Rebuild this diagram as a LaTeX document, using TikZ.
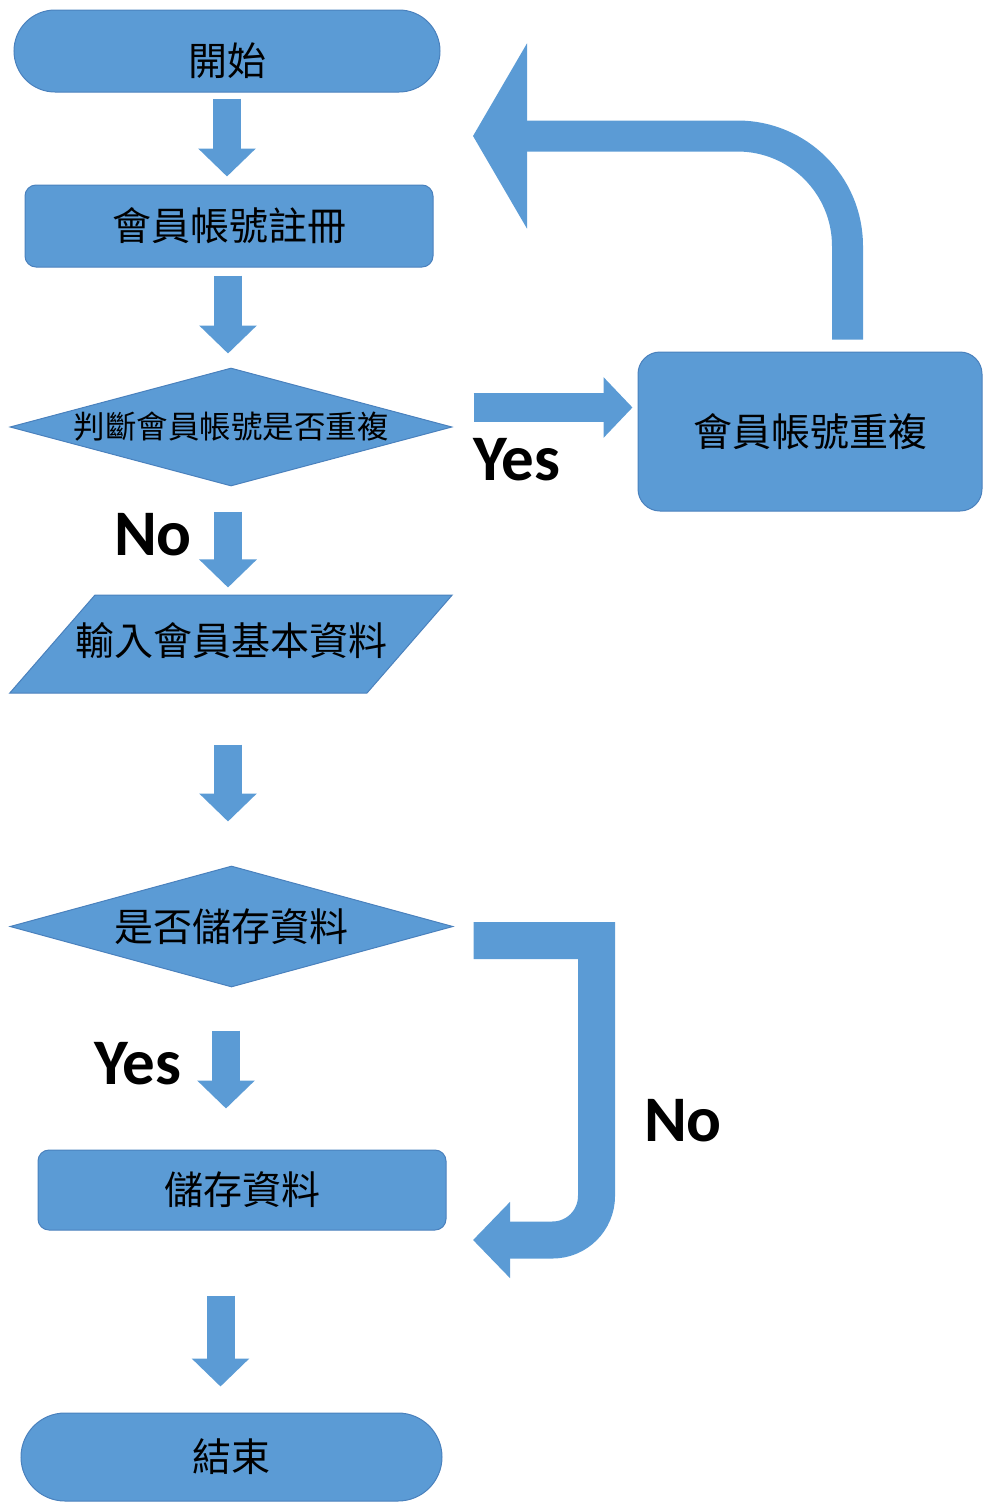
\documentclass[tikz,border=0pt]{standalone}
\usepackage{fontspec}
\setmainfont{Carlito}
\newfontfamily\cjk{Noto Sans CJK TC}
\usetikzlibrary{shapes.geometric,arrows.meta}
\definecolor{fillblue}{HTML}{5B9BD5}
\definecolor{lineblue}{HTML}{4A81BD}
\tikzset{
  shapebase/.style={fill=fillblue, draw=lineblue, line width=1pt, inner sep=0pt,
    font=\cjk\fontsize{39}{39}\selectfont},
  terminal/.style={shapebase, rectangle, rounded corners=41pt},
  process/.style={shapebase, rectangle, rounded corners=11pt},
  decision/.style={shapebase, diamond, aspect=3.7},
  inout/.style={shapebase, trapezium, trapezium left angle=49, trapezium right angle=131,
    trapezium stretches body, text height=31pt, text depth=8pt, inner ysep=29.5pt, inner xsep=-20pt},
  yesno/.style={font=\bfseries\fontsize{65}{65}\selectfont},
  down/.style={draw=fillblue, line width=28pt, -{Triangle[length=28pt,width=56pt]}},
  across/.style={draw=fillblue, line width=29pt, -{Triangle[length=29pt,width=59pt]}},
  bigloop/.style={draw=fillblue, line width=31pt, rounded corners=110pt,
    -{Triangle[length=54pt,width=183pt]}},
  noloop/.style={draw=fillblue, line width=37pt, -{Triangle[length=37pt,width=74pt]}},
}
\begin{document}
\begin{tikzpicture}[x=1pt, y=-1pt]
  \useasboundingbox (0,0) rectangle (984,1502);
  \node[terminal, minimum width=426pt, minimum height=82pt, text height=54pt, text depth=5pt] (start) at (227,51) {開始};
  \node[process, minimum width=408pt, minimum height=82pt] (reg) at (229,226) {會員帳號註冊};
  \node[decision, minimum width=442pt, minimum height=118pt, inner sep=-12pt,
    font=\cjk\fontsize{31.5}{31.5}\selectfont] (chk) at (231,427) {判斷會員帳號是否重複};
  \node[process, rounded corners=22pt, minimum width=344pt, minimum height=159pt] (dup) at (810,431.5) {會員帳號重複};
  \node[inout, minimum width=442pt, minimum height=98pt] (input) at (231,644) {輸入會員基本資料};
  \node[decision, minimum width=443pt, minimum height=121pt] (chksave) at (231.5,926.5) {是否儲存資料};
  \node[process, minimum width=408pt, minimum height=80pt] (save) at (242,1190) {儲存資料};
  \node[terminal, rounded corners=44pt, minimum width=421pt, minimum height=88pt] (stop) at (231.5,1457) {結束};
  \coordinate (back) at (473,136);
  \coordinate (nobend) at (596.5,940.5);
  \coordinate (noback) at (473,1240);
  \draw[down, shorten <=6pt, shorten >=8pt] (start.south) -- (start.south |- reg.north);
  \draw[down, shorten <=8pt, shorten >=14pt] ([xshift=-1pt]reg.south) -- ([xshift=-1pt]reg.south |- chk.north);
  \draw[down, shorten <=25pt, shorten >=7pt] ([xshift=-3pt]chk.south) -- ([xshift=-3pt]chk.south |- input.north);
  \draw[down, shorten <=51pt, shorten >=44pt] ([xshift=-3pt]input.south) -- ([xshift=-3pt]input.south |- chksave.north);
  \draw[down, shorten <=43pt, shorten >=41pt] ([xshift=-5.5pt]chksave.south) -- ([xshift=-5.5pt]chksave.south |- save.north);
  \draw[down, shorten <=65pt, shorten >=26pt] ([xshift=-21.5pt]save.south) -- ([xshift=-21.5pt]save.south |- stop.north);
  \draw[across, shorten <=21pt, shorten >=5pt] ([yshift=19.5pt]chk.east) -- ([yshift=19.5pt]chk.east -| dup.west);
  \draw[bigloop, shorten <=12pt] ([xshift=37.5pt]dup.north) |- (back);
  \draw[noloop, shorten <=20pt] ([yshift=-14pt]chksave.east) -- (nobend) [rounded corners=44pt] |- (noback);
  \node[yesno] (yes1) at (517,460) {Yes};
  \node[yesno] (no1) at (153,535) {No};
  \node[yesno] (yes2) at (138,1064) {Yes};
  \node[yesno] (no2) at (683,1121) {No};
\end{tikzpicture}
\end{document}
